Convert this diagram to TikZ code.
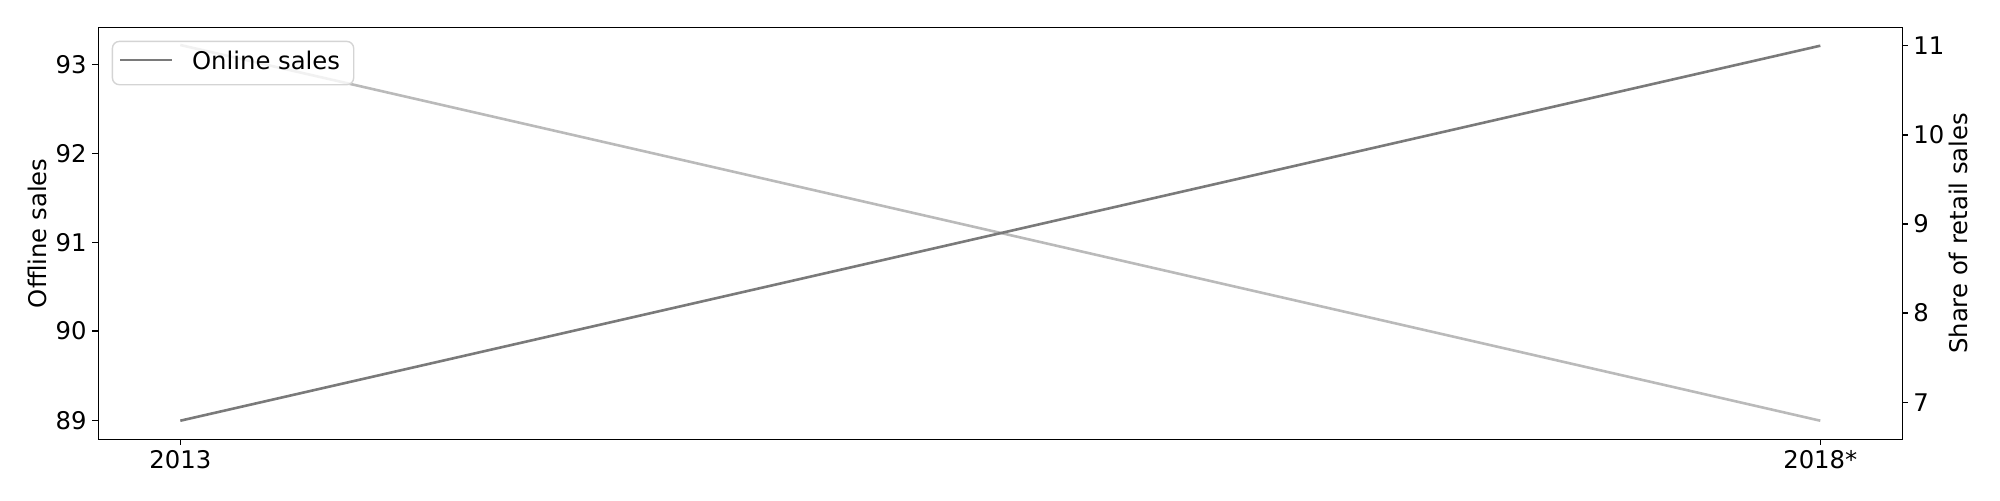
\documentclass[tikz,border=0pt]{standalone}
\usepackage{fontspec}
\setmainfont{DejaVu Sans}
\begin{document}
\begin{tikzpicture}[x=0.576pt,y=-0.576pt,
  every node/.style={font=\fontsize{14}{16.8}\selectfont, inner sep=0pt},
  axisline/.style={line width=0.8pt, black},
  tickmark/.style={line width=0.8pt, black},
  onlineline/.style={line width=1.5pt, color=black!52},
  offlineline/.style={line width=1.5pt, color=black!27},
  legendbox/.style={draw=black!17, line width=0.8pt, fill=white, fill opacity=0.8, rounded corners=4pt}]
\useasboundingbox (0,0) rectangle (2000,500);
% data points
\coordinate (on1) at (180.3,420.7);
\coordinate (on2) at (1820.3,45.7);
\coordinate (off1) at (180.3,45);
\coordinate (off2) at (1820.3,420.7);
\draw[offlineline] (off1) -- (off2);
\draw[onlineline] (on1) -- (on2);
% axes frame
\draw[axisline] (98.3,27.3) rectangle (1902.3,439.3);
% left ticks
\foreach \v/\y in {93/64.3,92/153.3,91/242.3,90/331,89/420.7}{
  \draw[tickmark] (98.3,\y) -- (92.3,\y);
  \node[anchor=east] (l\v) at (87,\y) {\v};
}
% right ticks
\foreach \v/\y in {11/45.7,10/135,9/224,8/313,7/402.7}{
  \draw[tickmark] (1902.3,\y) -- (1908.3,\y);
  \node[anchor=west] (r\v) at (1913,\y) {\v};
}
% x ticks
\draw[tickmark] (180.3,439.3) -- (180.3,445.3);
\draw[tickmark] (1820.3,439.3) -- (1820.3,445.3);
\node[anchor=north] (x1) at (180.3,450) {2013};
\node[anchor=north] (x2) at (1820.3,450) {2018*};
% axis labels
\node[rotate=90] (ylab) at (37,233.3) {Offline sales};
\node[rotate=90] (y2lab) at (1958,233.3) {Share of retail sales};
% legend
\node[legendbox, minimum width=241.3*0.576pt, minimum height=43.3*0.576pt, anchor=north west] (leg) at (111.7,40.7) {};
\coordinate (lg1) at (120,60);
\coordinate (lg2) at (171.7,60);
\draw[onlineline] (lg1) -- (lg2);
\node[anchor=west] (legtext) at (191.7,60) {Online sales};
\end{tikzpicture}
\end{document}
